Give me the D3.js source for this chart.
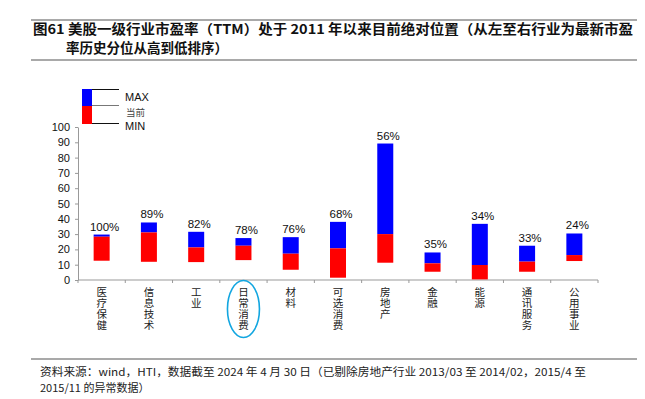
<!DOCTYPE html>
<html>
<head>
<meta charset="utf-8">
<script src="https://cdn.jsdelivr.net/npm/d3@7"></script>
<style>
  body { margin: 0; background: #fff; }
  svg { display: block; }
  .cjk { font-family: "Noto Sans CJK SC", sans-serif; }
  .num { font-family: "Liberation Sans", Arial, sans-serif; }
  .vlabel { writing-mode: vertical-rl; text-orientation: upright; }
</style>
</head>
<body>
<svg width="645" height="399"></svg>
<script>
// industries, left to right by current PE percentile
const industries = ["医疗保健", "信息技术", "工业", "日常消费", "材料", "可选消费",
                    "房地产", "金融", "能源", "通讯服务", "公用事业"];
const peMax     = [29.7, 37.6, 31.5, 27.4, 28.0, 38.0, 89.2, 18.0, 36.7, 22.4, 30.4];
const peCurrent = [28.3, 31.1, 21.3, 22.4, 17.2, 20.7, 30.0, 10.9,  9.8, 12.0, 16.3];
const peMin     = [12.6, 11.9, 11.7, 13.0,  6.7,  1.5, 11.3,  5.4,  0.4,  5.4, 12.4];
const percentile = ["100%", "89%", "82%", "78%", "76%", "68%", "56%", "35%", "34%", "33%", "24%"];
const yTicks = [0, 10, 20, 30, 40, 50, 60, 70, 80, 90, 100];

const titleLines = [
  "图61 美股一级行业市盈率（TTM）处于 2011 年以来目前绝对位置（从左至右行业为最新市盈",
  "率历史分位从高到低排序）"
];
const footLines = [
  "资料来源：wind，HTI，数据截至 2024 年 4 月 30 日（已剔除房地产行业 2013/03 至 2014/02，2015/4 至",
  "2015/11 的异常数据）"
];

const data = industries.map((name, i) => ({
  name, max: peMax[i], cur: peCurrent[i], min: peMin[i], pct: percentile[i]
}));

const svg = d3.select("svg");
svg.append("rect").attr("width", 645).attr("height", 399).attr("fill", "#fff");

// title block
svg.append("line").attr("x1", 31).attr("x2", 637).attr("y1", 20).attr("y2", 20)
  .attr("stroke", "#555").attr("stroke-width", 1.2);
svg.append("line").attr("x1", 31).attr("x2", 637).attr("y1", 60).attr("y2", 60)
  .attr("stroke", "#555").attr("stroke-width", 1.2);
svg.append("text").attr("class", "cjk")
  .attr("x", 33).attr("y", 34)
  .attr("font-size", 13.5).attr("font-weight", "bold").attr("fill", "#111")
  .attr("textLength", 600).attr("lengthAdjust", "spacingAndGlyphs")
  .text(titleLines[0]);
svg.append("text").attr("class", "cjk")
  .attr("x", 66).attr("y", 53)
  .attr("font-size", 13.5).attr("font-weight", "bold").attr("fill", "#111")
  .text(titleLines[1]);

// scales
const x = d3.scaleBand().domain(industries).range([78, 598]);
const y = d3.scaleLinear().domain([0, 100]).range([280, 127]);
const barW = 16;
const cx = d => x(d) + x.bandwidth() / 2;

// y axis
const yAxisG = svg.append("g")
  .attr("class", "y-axis")
  .attr("transform", "translate(78,0)")
  .call(d3.axisLeft(y).tickValues(yTicks).tickSize(3).tickSizeOuter(0).tickPadding(5));
yAxisG.select(".domain").attr("stroke", "#999");
yAxisG.selectAll(".tick line").attr("stroke", "#999");
yAxisG.selectAll(".tick text")
  .attr("font-family", "Liberation Sans, Arial, sans-serif")
  .attr("font-size", 11).attr("fill", "#111");

// x axis: baseline with ticks at category boundaries
const xAxisG = svg.append("g").attr("class", "x-axis");
xAxisG.append("line")
  .attr("x1", x.range()[0]).attr("x2", x.range()[1])
  .attr("y1", y(0)).attr("y2", y(0))
  .attr("stroke", "#999");
xAxisG.selectAll(".xtick")
  .data(industries.map(d => x(d)).concat([x.range()[1]]))
  .enter().append("line")
    .attr("class", "xtick")
    .attr("x1", d => d).attr("x2", d => d)
    .attr("y1", y(0)).attr("y2", y(0) + 3)
    .attr("stroke", "#999");

// bars: red from min to current, blue from current to max
const bars = svg.append("g").attr("class", "bars");
bars.selectAll(".upper").data(data).enter().append("rect")
  .attr("class", "upper")
  .attr("x", d => cx(d.name) - barW / 2)
  .attr("width", barW)
  .attr("y", d => y(d.max))
  .attr("height", d => y(d.cur) - y(d.max))
  .attr("fill", "#0000ff");
bars.selectAll(".lower").data(data).enter().append("rect")
  .attr("class", "lower")
  .attr("x", d => cx(d.name) - barW / 2)
  .attr("width", barW)
  .attr("y", d => y(d.cur))
  .attr("height", d => y(d.min) - y(d.cur))
  .attr("fill", "#ff0000");

svg.append("g").selectAll("text").data(data).enter().append("text")
  .attr("class", "num")
  .attr("x", d => cx(d.name) + 3)
  .attr("y", d => y(d.max) - 4)
  .attr("text-anchor", "middle")
  .attr("font-size", 11.5).attr("fill", "#111")
  .text(d => d.pct);

// vertical category labels
svg.append("g").selectAll("text").data(industries).enter().append("text")
  .attr("class", "cjk vlabel")
  .attr("x", d => cx(d))
  .attr("y", 287)
  .attr("font-size", 10.5).attr("fill", "#222")
  .attr("letter-spacing", 0.5)
  .text(d => d);

// highlight ring on 日常消费
svg.append("ellipse")
  .attr("cx", cx("日常消费")).attr("cy", 309)
  .attr("rx", 16).attr("ry", 28.5)
  .attr("fill", "none").attr("stroke", "#12a6e0").attr("stroke-width", 1.6);

// legend
const lg = svg.append("g").attr("class", "legend");
lg.append("rect").attr("x", 82).attr("y", 89).attr("width", 10).attr("height", 17).attr("fill", "#0000ff");
lg.append("rect").attr("x", 82).attr("y", 106).attr("width", 10).attr("height", 18).attr("fill", "#ff0000");
lg.append("line").attr("x1", 92).attr("x2", 119).attr("y1", 89.5).attr("y2", 89.5).attr("stroke", "#111");
lg.append("line").attr("x1", 92).attr("x2", 119).attr("y1", 105.5).attr("y2", 105.5).attr("stroke", "#777");
lg.append("line").attr("x1", 92).attr("x2", 119).attr("y1", 123.5).attr("y2", 123.5).attr("stroke", "#111");
lg.append("text").attr("class", "num").attr("x", 125).attr("y", 101)
  .attr("font-size", 11).attr("fill", "#111").text("MAX");
lg.append("text").attr("class", "cjk").attr("x", 126).attr("y", 115.5)
  .attr("font-size", 9.5).attr("fill", "#444").text("当前");
lg.append("text").attr("class", "num").attr("x", 125).attr("y", 130)
  .attr("font-size", 11).attr("fill", "#111").text("MIN");

// source note
svg.append("line").attr("x1", 31).attr("x2", 637).attr("y1", 359).attr("y2", 359)
  .attr("stroke", "#555").attr("stroke-width", 1.2);
svg.append("text").attr("class", "cjk")
  .attr("x", 40).attr("y", 376)
  .attr("font-size", 11).attr("fill", "#222")
  .attr("textLength", 546).attr("lengthAdjust", "spacingAndGlyphs")
  .text(footLines[0]);
svg.append("text").attr("class", "cjk")
  .attr("x", 40).attr("y", 392)
  .attr("font-size", 11).attr("fill", "#222")
  .text(footLines[1]);
</script>
</body>
</html>
